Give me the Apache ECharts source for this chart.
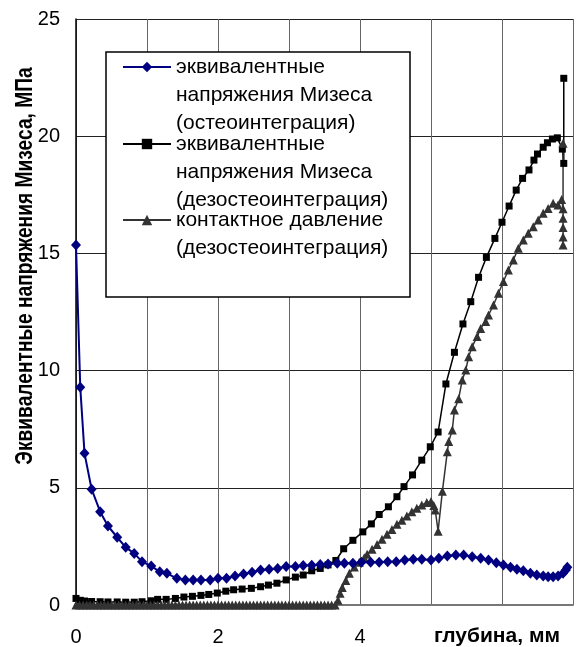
<!DOCTYPE html>
<html><head><meta charset="utf-8">
<script src="https://cdn.jsdelivr.net/npm/echarts@6/dist/echarts.min.js"></script>
<style>html,body{margin:0;padding:0;background:#fff}#c{width:576px;height:647px}</style>
</head><body><div id="c"></div>
<script>
const seriesNames = [
  'эквивалентные\nнапряжения Мизеса\n(остеоинтеграция)',
  'эквивалентные\nнапряжения Мизеса\n(дезостеоинтеграция)',
  'контактное давление\n(дезостеоинтеграция)'
];
const yAxisTitle = 'Эквивалентные напряжения Мизеса, МПа';
const xAxisTitle = 'глубина, мм';
const xTickLabels = {0: '0', 2: '2', 4: '4'};
const yTicks = [0, 5, 10, 15, 20, 25];

// [depth mm, stress MPa]
const misesOsteo = [
  [0,15.36],[0.06,9.29],[0.12,6.47],[0.22,4.94],[0.34,3.98],[0.45,3.37],[0.58,2.89],[0.70,2.46],
  [0.82,2.20],[0.93,1.85],[1.06,1.66],[1.18,1.42],[1.28,1.35],[1.42,1.14],[1.54,1.07],[1.65,1.07],
  [1.76,1.07],[1.89,1.07],[2.00,1.14],[2.12,1.14],[2.24,1.24],[2.36,1.32],[2.48,1.40],[2.60,1.49],
  [2.72,1.52],[2.84,1.56],[2.96,1.64],[3.09,1.64],[3.20,1.68],[3.32,1.70],[3.44,1.73],[3.55,1.75],
  [3.68,1.78],[3.78,1.78],[3.90,1.78],[4.02,1.82],[4.15,1.82],[4.27,1.82],[4.39,1.85],[4.51,1.85],
  [4.63,1.92],[4.75,1.95],[4.87,1.95],[5.00,1.92],[5.11,1.99],[5.23,2.09],[5.35,2.13],[5.46,2.13],
  [5.58,2.06],[5.70,1.99],[5.81,1.92],[5.92,1.80],[6.02,1.71],[6.12,1.61],[6.21,1.52],[6.30,1.46],
  [6.40,1.35],[6.49,1.28],[6.58,1.24],[6.65,1.21],[6.72,1.21],[6.79,1.24],[6.86,1.35],[6.90,1.49],
  [6.92,1.61]
];
const misesDesosteo = [
  [0,0.28],[0.06,0.20],[0.12,0.17],[0.22,0.15],[0.34,0.14],[0.45,0.13],[0.58,0.13],[0.70,0.12],
  [0.82,0.12],[0.93,0.14],[1.06,0.18],[1.15,0.24],[1.27,0.24],[1.40,0.28],[1.52,0.34],[1.64,0.37],
  [1.76,0.41],[1.87,0.45],[1.99,0.51],[2.11,0.59],[2.22,0.65],[2.34,0.68],[2.47,0.71],[2.60,0.78],
  [2.71,0.85],[2.83,0.93],[2.96,1.07],[3.09,1.19],[3.20,1.28],[3.32,1.46],[3.44,1.56],[3.55,1.71],
  [3.66,1.90],[3.77,2.40],[3.90,2.76],[4.04,3.12],[4.16,3.46],[4.27,3.86],[4.40,4.19],[4.52,4.62],
  [4.62,5.05],[4.74,5.55],[4.87,6.18],[4.99,6.75],[5.10,7.38],[5.21,9.43],[5.33,10.78],[5.45,11.99],
  [5.56,12.94],[5.67,13.98],[5.78,14.83],[5.90,15.64],[6.00,16.33],[6.10,17.02],[6.20,17.70],[6.29,18.20],
  [6.38,18.56],[6.45,18.98],[6.50,19.24],[6.58,19.53],[6.64,19.72],[6.71,19.88],[6.78,19.93],[6.85,19.45],
  [6.87,18.84],[6.87,22.47]
];
const contactDesosteo = [
  [0,0],[0.05,0],[0.10,0],[0.15,0],[0.20,0],[0.25,0],[0.30,0],[0.35,0],[0.40,0],[0.45,0],[0.50,0],
  [0.55,0],[0.60,0],[0.65,0],[0.70,0],[0.75,0],[0.80,0],[0.85,0],[0.90,0],[0.95,0],[1.00,0],[1.05,0],
  [1.10,0],[1.15,0],[1.20,0],[1.25,0],[1.30,0],[1.35,0],[1.40,0],[1.45,0],[1.50,0],[1.55,0],[1.60,0],
  [1.65,0],[1.70,0],[1.75,0],[1.80,0],[1.85,0],[1.90,0],[1.95,0],[2.00,0],[2.05,0],[2.10,0],[2.15,0],
  [2.20,0],[2.25,0],[2.30,0],[2.35,0],[2.40,0],[2.45,0],[2.50,0],[2.55,0],[2.60,0],[2.65,0],[2.70,0],
  [2.75,0],[2.80,0],[2.85,0],[2.90,0],[2.95,0],[3.00,0],[3.05,0],[3.10,0],[3.15,0],[3.20,0],[3.25,0],
  [3.30,0],[3.35,0],[3.40,0],[3.45,0],[3.50,0],[3.55,0],[3.60,0],[3.65,0],
  [3.69,0.20],[3.72,0.50],[3.75,0.75],[3.80,1.05],[3.85,1.35],[3.92,1.62],[3.99,1.82],[4.06,2.02],
  [4.10,2.16],[4.17,2.38],[4.24,2.58],[4.31,2.80],[4.38,3.02],[4.45,3.22],[4.52,3.44],[4.59,3.62],
  [4.66,3.80],[4.73,3.98],[4.80,4.13],[4.87,4.27],[4.94,4.37],[5.00,4.42],[5.04,4.25],[5.06,4.05],
  [5.10,3.15],[5.16,4.85],[5.23,6.54],[5.25,6.97],[5.30,7.47],[5.33,8.32],[5.39,8.80],[5.44,9.60],
  [5.49,10.03],[5.53,10.59],[5.58,11.02],[5.65,11.45],[5.70,11.80],[5.77,12.09],[5.81,12.37],[5.88,12.80],
  [5.95,13.30],[6.02,13.80],[6.09,14.29],[6.16,14.72],[6.23,15.22],[6.30,15.57],[6.37,15.86],[6.44,16.14],
  [6.51,16.42],[6.58,16.71],[6.65,16.92],[6.72,17.14],[6.79,17.06],[6.84,17.30],[6.86,16.90],[6.86,16.50],
  [6.86,16.10],[6.86,15.70],[6.86,15.36],[6.86,19.70]
];

const FONT = "'Liberation Sans', Arial, sans-serif";
const chart = echarts.init(document.getElementById('c'), null, {renderer: 'canvas'});

function legendFor(idx, lines, top) {
  return {
    show: true, orient: 'vertical', left: 122, top: top, padding: 0,
    itemWidth: 48, itemHeight: 13, itemGap: 0, selectedMode: false,
    data: [seriesNames[idx]],
    formatter: name => '\n'.repeat(lines - 1) + name,
    textStyle: {fontFamily: FONT, fontSize: 21, color: '#000', lineHeight: 28},
    z: 10
  };
}

chart.setOption({
  animation: false,
  backgroundColor: '#fff',
  grid: {left: 76, top: 19, right: 0, bottom: 42, show: false},
  legend: [legendFor(0, 3, -3), legendFor(1, 3, 74), legendFor(2, 2, 178)],
  xAxis: {
    type: 'value', min: 0, max: 7, interval: 1,
    axisLine: {show: true, onZero: false, lineStyle: {color: '#777', width: 2}},
    axisTick: {show: false},
    splitLine: {show: true, lineStyle: {color: '#666', width: 1}},
    axisLabel: {fontFamily: FONT, fontSize: 20, color: '#000', margin: 22,
      formatter: v => (xTickLabels[v] !== undefined ? xTickLabels[v] : '')}
  },
  yAxis: {
    type: 'value', min: yTicks[0], max: yTicks[yTicks.length - 1], interval: 5,
    axisLine: {show: true, lineStyle: {color: '#000', width: 1.5}},
    axisTick: {show: false},
    splitLine: {show: true, lineStyle: {color: '#222', width: 1}},
    axisLabel: {fontFamily: FONT, fontSize: 20, color: '#000', margin: 16}
  },
  graphic: [
    {type: 'rect', z: 5, shape: {x: 106, y: 52, width: 304, height: 245},
     style: {fill: '#fff', stroke: '#000', lineWidth: 1.5}},
    {type: 'text', z: 5, x: 25, y: 266, rotation: Math.PI / 2, scaleX: 0.8,
     style: {text: yAxisTitle, font: "bold 24px " + FONT, fill: '#000', align: 'center', verticalAlign: 'middle'}},
    {type: 'text', z: 5, x: 497, y: 636,
     style: {text: xAxisTitle, font: "bold 21px " + FONT, fill: '#000', align: 'center', verticalAlign: 'middle'}}
  ],
  series: [
    {name: seriesNames[0], type: 'line', data: misesOsteo, symbol: 'diamond', symbolSize: [10, 11],
     showAllSymbol: true, color: '#000080', lineStyle: {width: 2, color: '#000080'},
     itemStyle: {color: '#000080'}, z: 4},
    {name: seriesNames[1], type: 'line', data: misesDesosteo, symbol: 'rect', symbolSize: 7,
     showAllSymbol: true, color: '#000', lineStyle: {width: 1.5, color: '#000'},
     itemStyle: {color: '#000'}, z: 3},
    {name: seriesNames[2], type: 'line', data: contactDesosteo, symbol: 'triangle', symbolSize: 9,
     showAllSymbol: true, color: '#333', lineStyle: {width: 1.5, color: '#333'},
     itemStyle: {color: '#333'}, z: 3}
  ]
});
</script></body></html>
